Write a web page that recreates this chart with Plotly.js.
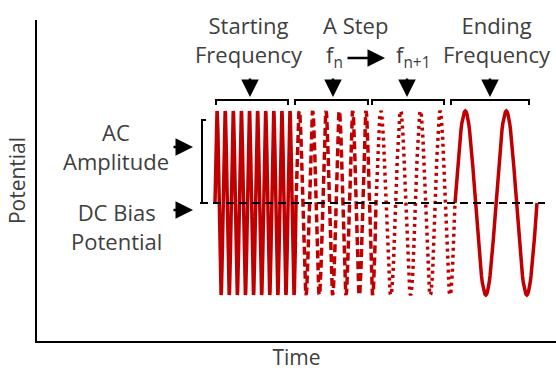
<!DOCTYPE html>
<html>
<head>
<meta charset="utf-8">
<script src="https://cdn.plot.ly/plotly-3.0.1.min.js"></script>
<style>html,body{margin:0;padding:0;background:#fff;}#chart{width:556px;height:371px;}</style>
</head>
<body>
<div id="chart"></div>
<script>
// ---- data (schematic units: time and potential) ----
var segStart  = [178, 259, 339, 418];
var segEnd    = [259, 339, 418, 500];
var segCycles = [10, 6, 4, 2];
var dcBias = 138;
var acAmplitude = 92;
var dcLineStart = 163, dcLineEnd = 508;
var bracketStart = [179, 258, 335, 414];
var bracketEnd   = [251, 331, 407, 492];
var labelTop = ["Starting<br>Frequency", "A Step", "Ending<br>Frequency"];
var labelLeft = ["AC<br>Amplitude", "DC Bias<br>Potential"];
var xTitle = "Time", yTitle = "Potential";

// ---- styles ----
var red = "#C00000", grey = "#404040";
var segDash = ["solid", "8px,4px", "3px,4px", "solid"];
var font = "'Open Sans', sans-serif";

var traces = [];
for (var s = 0; s < segStart.length; s++) {
  var n = segCycles[s] * 48;
  var xs = [], ys = [];
  for (var i = 0; i <= n; i++) {
    var f = i / n;
    xs.push(segStart[s] + f * (segEnd[s] - segStart[s]));
    ys.push(dcBias + acAmplitude * Math.sin(2 * Math.PI * segCycles[s] * f));
  }
  traces.push({x: xs, y: ys, mode: "lines", hoverinfo: "skip",
    line: {color: red, width: 3.5, dash: segDash[s]}});
}

var shapes = [];
shapes.push({type: "line", xref: "x", yref: "y", x0: dcLineStart, x1: dcLineEnd, y0: dcBias, y1: dcBias,
  line: {color: "black", width: 2, dash: "8px,5px"}});
var bTop = 241, bLeg = 5;
for (var b = 0; b < bracketStart.length; b++) {
  shapes.push({type: "path", xref: "x", yref: "y",
    path: "M" + bracketStart[b] + "," + (bTop - bLeg) + " L" + bracketStart[b] + "," + bTop +
          " L" + bracketEnd[b] + "," + bTop + " L" + bracketEnd[b] + "," + (bTop - bLeg),
    line: {color: "black", width: 2}});
}
var lbX = 165, lbTop = dcBias + acAmplitude - 9;
shapes.push({type: "path", xref: "x", yref: "y",
  path: "M" + (lbX + 4) + "," + lbTop + " L" + lbX + "," + lbTop + " L" + lbX + "," + dcBias,
  line: {color: "black", width: 2}});

function arrow(x, y, ax, ay) {
  return {x: x, y: y, ax: ax, ay: ay, xref: "x", yref: "y", axref: "x", ayref: "y",
    text: "", showarrow: true, arrowhead: 2, arrowsize: 1.4, arrowwidth: 2.5, arrowcolor: "black"};
}
var tf = {family: font, size: 22, color: grey};
var annotations = [
  arrow(213, 244, 213, 264), arrow(296, 244, 296, 264), arrow(370, 244, 370, 264), arrow(453, 244, 453, 264),
  arrow(156, 194, 135, 194), arrow(156, 131, 135, 131), arrow(348, 283, 309, 283),
  {x: 212, y: 302, xref: "x", yref: "y", text: labelTop[0], showarrow: false, font: tf},
  {x: 318, y: 316, xref: "x", yref: "y", text: labelTop[1], showarrow: false, font: tf},
  {x: 297, y: 285, xref: "x", yref: "y", text: "f<sub>n</sub>", showarrow: false, font: tf},
  {x: 376, y: 285, xref: "x", yref: "y", text: "f<sub>n+1</sub>", showarrow: false, font: tf},
  {x: 460, y: 302, xref: "x", yref: "y", text: labelTop[2], showarrow: false, font: tf},
  {x: 79, y: 195, xref: "x", yref: "y", text: labelLeft[0], showarrow: false, font: tf},
  {x: 79, y: 115, xref: "x", yref: "y", text: labelLeft[1], showarrow: false, font: tf}
];

var layout = {
  width: 556, height: 371,
  margin: {l: 37, r: 0, t: 20, b: 30},
  showlegend: false,
  paper_bgcolor: "white", plot_bgcolor: "white",
  xaxis: {range: [0, 519], showline: true, linecolor: "black", linewidth: 2, showgrid: false,
    zeroline: false, showticklabels: false, ticks: "", fixedrange: true,
    title: {text: xTitle, font: {family: font, size: 21, color: grey}, standoff: 16}},
  yaxis: {range: [0, 321], showline: true, linecolor: "black", linewidth: 2, showgrid: false,
    zeroline: false, showticklabels: false, ticks: "", fixedrange: true,
    title: {text: yTitle, font: {family: font, size: 21, color: grey}, standoff: 4}},
  shapes: shapes,
  annotations: annotations
};
Plotly.newPlot("chart", traces, layout, {staticPlot: true});
</script>
</body>
</html>
